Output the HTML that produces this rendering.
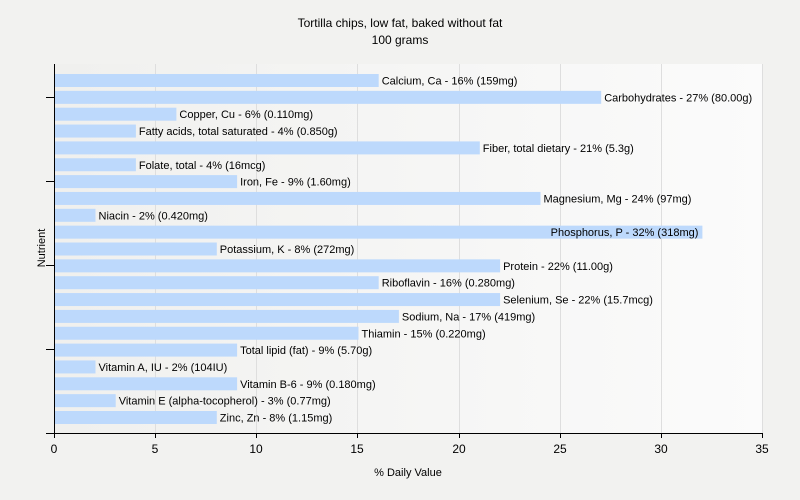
<!DOCTYPE html>
<html><head><style>
body{margin:0;background:#f2f2f0;}
svg{display:block;font-family:"Liberation Sans",sans-serif;}
</style></head><body>
<svg width="800" height="500" xmlns="http://www.w3.org/2000/svg">
<defs><linearGradient id="g" x1="0" x2="1"><stop offset="0" stop-color="#f0f0ee"/><stop offset="1" stop-color="#fbfbfb"/></linearGradient></defs>
<rect width="800" height="500" fill="#f2f2f0"/>
<rect x="54" y="64" width="709" height="369" fill="url(#g)"/>
<g stroke="#dedede" stroke-width="1">
<line x1="155.5" y1="64" x2="155.5" y2="433"/><line x1="256.5" y1="64" x2="256.5" y2="433"/><line x1="357.5" y1="64" x2="357.5" y2="433"/><line x1="459.5" y1="64" x2="459.5" y2="433"/><line x1="560.5" y1="64" x2="560.5" y2="433"/><line x1="661.5" y1="64" x2="661.5" y2="433"/><line x1="762.5" y1="64" x2="762.5" y2="433"/>
</g>
<text x="400" y="27" font-size="12" text-anchor="middle">Tortilla chips, low fat, baked without fat</text>
<text x="400" y="44" font-size="12" text-anchor="middle">100 grams</text>
<g fill="#bdd9fc">
<rect x="55" y="74" width="323.7" height="13"/>
<rect x="55" y="90.85" width="546.2" height="13"/>
<rect x="55" y="107.7" width="121.4" height="13"/>
<rect x="55" y="124.55" width="80.9" height="13"/>
<rect x="55" y="141.4" width="424.8" height="13"/>
<rect x="55" y="158.25" width="80.9" height="13"/>
<rect x="55" y="175.1" width="182.1" height="13"/>
<rect x="55" y="191.95" width="485.5" height="13"/>
<rect x="55" y="208.8" width="40.5" height="13"/>
<rect x="55" y="225.65" width="647.4" height="13"/>
<rect x="55" y="242.5" width="161.8" height="13"/>
<rect x="55" y="259.35" width="445.1" height="13"/>
<rect x="55" y="276.2" width="323.7" height="13"/>
<rect x="55" y="293.05" width="445.1" height="13"/>
<rect x="55" y="309.9" width="343.9" height="13"/>
<rect x="55" y="326.75" width="303.5" height="13"/>
<rect x="55" y="343.6" width="182.1" height="13"/>
<rect x="55" y="360.45" width="40.5" height="13"/>
<rect x="55" y="377.3" width="182.1" height="13"/>
<rect x="55" y="394.15" width="60.7" height="13"/>
<rect x="55" y="411" width="161.8" height="13"/>
</g>
<g font-size="11">
<text x="381.7" y="84.5">Calcium, Ca - 16% (159mg)</text>
<text x="604.2" y="101.35">Carbohydrates - 27% (80.00g)</text>
<text x="179.4" y="118.2">Copper, Cu - 6% (0.110mg)</text>
<text x="138.9" y="135.05">Fatty acids, total saturated - 4% (0.850g)</text>
<text x="482.8" y="151.9">Fiber, total dietary - 21% (5.3g)</text>
<text x="138.9" y="168.75">Folate, total - 4% (16mcg)</text>
<text x="240.1" y="185.6">Iron, Fe - 9% (1.60mg)</text>
<text x="543.5" y="202.45">Magnesium, Mg - 24% (97mg)</text>
<text x="98.5" y="219.3">Niacin - 2% (0.420mg)</text>
<text x="698.4" y="236.15" text-anchor="end">Phosphorus, P - 32% (318mg)</text>
<text x="219.8" y="253">Potassium, K - 8% (272mg)</text>
<text x="503.1" y="269.85">Protein - 22% (11.00g)</text>
<text x="381.7" y="286.7">Riboflavin - 16% (0.280mg)</text>
<text x="503.1" y="303.55">Selenium, Se - 22% (15.7mcg)</text>
<text x="401.9" y="320.4">Sodium, Na - 17% (419mg)</text>
<text x="361.5" y="337.25">Thiamin - 15% (0.220mg)</text>
<text x="240.1" y="354.1">Total lipid (fat) - 9% (5.70g)</text>
<text x="98.5" y="370.95">Vitamin A, IU - 2% (104IU)</text>
<text x="240.1" y="387.8">Vitamin B-6 - 9% (0.180mg)</text>
<text x="118.7" y="404.65">Vitamin E (alpha-tocopherol) - 3% (0.77mg)</text>
<text x="219.8" y="421.5">Zinc, Zn - 8% (1.15mg)</text>
</g>
<g stroke="#000" stroke-width="1">
<line x1="54.5" y1="64" x2="54.5" y2="434"/>
<line x1="46" y1="433.5" x2="763" y2="433.5"/>
<line x1="46" y1="97.5" x2="54" y2="97.5"/><line x1="46" y1="181.5" x2="54" y2="181.5"/><line x1="46" y1="265.5" x2="54" y2="265.5"/><line x1="46" y1="349.5" x2="54" y2="349.5"/>
<line x1="54.5" y1="433" x2="54.5" y2="438"/><line x1="155.5" y1="433" x2="155.5" y2="438"/><line x1="256.5" y1="433" x2="256.5" y2="438"/><line x1="357.5" y1="433" x2="357.5" y2="438"/><line x1="459.5" y1="433" x2="459.5" y2="438"/><line x1="560.5" y1="433" x2="560.5" y2="438"/><line x1="661.5" y1="433" x2="661.5" y2="438"/><line x1="762.5" y1="433" x2="762.5" y2="438"/>
</g>
<g font-size="12" text-anchor="middle">
<text x="54" y="453">0</text><text x="155" y="453">5</text><text x="256" y="453">10</text><text x="357" y="453">15</text><text x="459" y="453">20</text><text x="560" y="453">25</text><text x="661" y="453">30</text><text x="762" y="453">35</text>
</g>
<text x="408" y="476" font-size="11" text-anchor="middle">% Daily Value</text>
<text transform="translate(45,248) rotate(-90)" font-size="11" text-anchor="middle">Nutrient</text>
</svg>
</body></html>
